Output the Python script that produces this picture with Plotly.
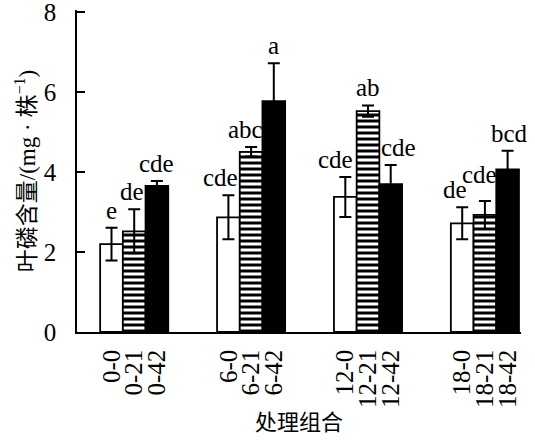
import plotly.graph_objects as go

# Treatment groups and levels
groups = ["0", "6", "12", "18"]
levels = ["0", "21", "42"]
tick_labels = [f"{g}-{l}" for g in groups for l in levels]

# Leaf phosphorus per plant (mg) and standard errors
white_vals = [2.20, 2.87, 3.38, 2.72]
white_err = [0.41, 0.55, 0.50, 0.40]
striped_vals = [2.52, 4.51, 5.53, 2.93]
striped_err = [0.55, 0.12, 0.14, 0.35]
black_vals = [3.66, 5.78, 3.70, 4.07]
black_err = [0.12, 0.95, 0.48, 0.47]

# Significance letters
white_sig = ["e", "cde", "cde", "de"]
striped_sig = ["de", "abc", "ab", "cde"]
black_sig = ["cde", "a", "cde", "bcd"]

GROUP_GAP = 5.15
series = [
    (white_vals, white_err, white_sig, "white", None),
    (striped_vals, striped_err, striped_sig, "white", "-"),
    (black_vals, black_err, black_sig, "black", None),
]

serif = "Liberation Serif, Times New Roman, serif"
cjk = "Liberation Serif, Noto Sans CJK SC, sans-serif"

# pixel nudges (dx, dy) for letters so neighbouring labels do not collide
nudges = {
    (1, 0): (-8, 0), (1, 1): (-6, 0), (2, 0): (-10, 0), (2, 2): (8, 0),
    (3, 0): (-7, 0), (3, 1): (-5, 9), (3, 2): (2, 0), (0, 1): (-2, 0),
}

fig = go.Figure()
annotations = []
tickvals = []
for j, (vals, errs, sig, color, shape) in enumerate(series):
    xs = [g * GROUP_GAP + j for g in range(len(groups))]
    marker = dict(color=color, line=dict(color="black", width=1.8))
    if shape:
        marker["pattern"] = dict(shape=shape, fgcolor="black", bgcolor="white",
                                 fgopacity=1, size=6, solidity=0.5)
    fig.add_trace(go.Bar(
        x=xs, y=vals, width=1, marker=marker,
        error_y=dict(type="data", array=errs, visible=True,
                     color="black", thickness=2, width=6),
        showlegend=False,
    ))
    for g, (x, v, e, s) in enumerate(zip(xs, vals, errs, sig)):
        dx, dy = nudges.get((g, j), (0, 0))
        annotations.append(dict(
            x=x, y=v + e, text=s, showarrow=False, yanchor="bottom",
            xanchor="center", yshift=2 + dy, xshift=dx,
            font=dict(family=serif, size=25, color="black"),
        ))

for g in range(len(groups)):
    for j in range(len(levels)):
        tickvals.append(g * GROUP_GAP + j)

fig.update_layout(
    width=535, height=440,
    margin=dict(l=77, r=14, t=10, b=108),
    paper_bgcolor="white", plot_bgcolor="white",
    barmode="overlay",
    annotations=annotations,
    font=dict(family=serif, color="black"),
)
fig.update_xaxes(
    range=[-1.52, 18.04], tickvals=tickvals, ticktext=tick_labels,
    tickangle=-90, showline=True, linecolor="black", linewidth=1.5,
    ticks="", showgrid=False, zeroline=False, ticklabelstandoff=6,
    automargin=False,
    tickfont=dict(family=serif, size=25, color="black"),
    title=dict(text="处理组合", font=dict(family=cjk, size=22, color="black"), standoff=8),
)
fig.update_yaxes(
    range=[0, 8.06], tickvals=[0, 2, 4, 6, 8], ticks="inside", ticklen=8,
    tickwidth=1.5, tickcolor="black",
    showline=True, linecolor="black", linewidth=1.5,
    showgrid=False, zeroline=False, ticklabelstandoff=14,
    ticklabeloverflow="allow", automargin=False,
    tickfont=dict(family=serif, size=25, color="black"),
    title=dict(text="叶磷含量/(mg · 株<sup>−1</sup>)",
               font=dict(family=cjk, size=23, color="black"), standoff=2),
)

fig.write_html("out.html")
